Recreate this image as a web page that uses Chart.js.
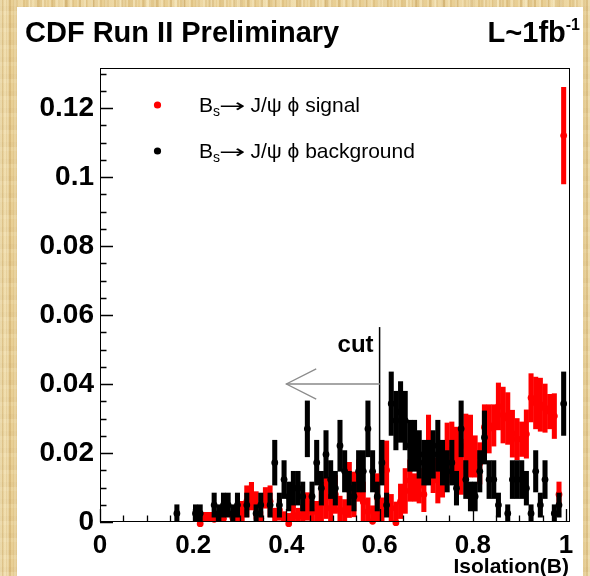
<!DOCTYPE html>
<html><head><meta charset="utf-8">
<script src="https://cdn.jsdelivr.net/npm/chart.js@4.4.1/dist/chart.umd.min.js"></script>
<style>
html,body{margin:0;padding:0;}
body{width:590px;height:576px;overflow:hidden;background:#e6cb8e;
 background-image:
  repeating-linear-gradient(90deg, rgba(255,248,220,0.30) 0 2px, rgba(190,150,82,0.14) 2px 4px, rgba(255,244,205,0.10) 4px 7px),
  repeating-linear-gradient(90deg, rgba(160,120,55,0.10) 0 3px, rgba(255,250,228,0.18) 3px 8px, rgba(0,0,0,0) 8px 13px),
  repeating-linear-gradient(90deg, rgba(255,246,214,0.22) 0 6px, rgba(176,136,70,0.12) 6px 11px, rgba(0,0,0,0) 11px 29px),
  repeating-linear-gradient(0deg, rgba(255,246,214,0.14) 0 4px, rgba(176,136,70,0.08) 4px 9px, rgba(0,0,0,0) 9px 17px);}
canvas{display:block;}
</style></head><body>
<canvas id="c" width="590" height="576"></canvas>
<script>
// Isolation(B) histogram, 100 bins of width 0.01 between 0 and 1
const binCenters = [
  0.005,0.015,0.025,0.035,0.045,0.055,0.065,0.075,0.085,0.095,
  0.105,0.115,0.125,0.135,0.145,0.155,0.165,0.175,0.185,0.195,
  0.205,0.215,0.225,0.235,0.245,0.255,0.265,0.275,0.285,0.295,
  0.305,0.315,0.325,0.335,0.345,0.355,0.365,0.375,0.385,0.395,
  0.405,0.415,0.425,0.435,0.445,0.455,0.465,0.475,0.485,0.495,
  0.505,0.515,0.525,0.535,0.545,0.555,0.565,0.575,0.585,0.595,
  0.605,0.615,0.625,0.635,0.645,0.655,0.665,0.675,0.685,0.695,
  0.705,0.715,0.725,0.735,0.745,0.755,0.765,0.775,0.785,0.795,
  0.805,0.815,0.825,0.835,0.845,0.855,0.865,0.875,0.885,0.895,
  0.905,0.915,0.925,0.935,0.945,0.955,0.965,0.975,0.985,0.995];

// Bs -> J/psi phi signal (sideband subtracted), per-bin fraction and its error
const signalValue = [
  null,null,null,null,null,null,null,null,null,null,
  null,null,null,null,null,null,null,null,null,null,
  null,-0.0005,0.0012,0.0010,0.0008,null,0.0010,null,0.0012,0.0015,
  0.0030,0.0060,0.0075,0.0048,0.0010,0.0070,0.0060,0.0020,0.0035,0.0010,
  -0.0005,0.0020,0.0015,0.0020,0.0045,0.0030,0.0030,0.0055,0.0070,0.0040,
  0.0080,0.0035,0.0030,0.0093,0.0080,0.0120,0.0058,0.0030,0.0002,0.0070,
  0.0030,0.0150,0.0040,-0.0002,0.0060,0.0090,0.0120,0.0100,0.0105,0.0080,
  0.0210,0.0135,0.0120,0.0150,0.0200,0.0210,0.0200,0.0160,0.0220,0.0220,
  0.0190,0.0170,0.0275,0.0270,0.0280,0.0335,0.0310,0.0300,0.0256,0.0240,
  0.0240,0.0255,0.0360,0.0345,0.0340,0.0330,0.0320,0.0307,0.0080,0.1120];
const signalError = [
  null,null,null,null,null,null,null,null,null,null,
  null,null,null,null,null,null,null,null,null,null,
  null,0.0030,0.0016,0.0018,0.0015,null,0.0015,null,0.0016,0.0015,
  0.0030,0.0045,0.0040,0.0040,0.0020,0.0030,0.0045,0.0020,0.0030,0.0020,
  0.0030,0.0030,0.0025,0.0030,0.0040,0.0030,0.0030,0.0060,0.0060,0.0040,
  0.0055,0.0040,0.0035,0.0080,0.0065,0.0060,0.0058,0.0040,0.0045,0.0070,
  0.0040,0.0085,0.0040,0.0060,0.0050,0.0065,0.0060,0.0040,0.0050,0.0050,
  0.0100,0.0050,0.0065,0.0078,0.0087,0.0080,0.0075,0.0080,0.0093,0.0090,
  0.0060,0.0060,0.0065,0.0070,0.0060,0.0068,0.0081,0.0075,0.0068,0.0060,
  0.0050,0.0070,0.0070,0.0075,0.0077,0.0070,0.0050,0.0065,0.0036,0.0140];

// Bs -> J/psi phi background (sidebands), per-bin fraction and its error
const backgroundValue = [
  null,null,null,null,null,null,null,null,null,null,
  null,null,null,null,null,null,0.0025,null,null,null,
  0.0025,0.0025,null,null,0.0049,0.0025,0.0049,0.0049,0.0025,0.0049,
  null,0.0049,null,0.0025,0.0049,null,0.0049,0.0172,0.0049,0.0123,
  0.0074,0.0098,0.0098,0.0074,0.0270,0.0074,0.0172,0.0098,0.0196,0.0123,
  0.0098,0.0221,0.0147,0.0098,0.0074,0.0147,0.0147,0.0270,0.0147,0.0074,
  0.0172,0.0049,0.0343,0.0294,0.0319,0.0294,0.0221,0.0221,0.0196,0.0172,
  0.0172,0.0196,0.0221,0.0172,0.0147,0.0172,0.0098,0.0270,0.0123,0.0074,
  0.0074,0.0147,0.0245,0.0123,0.0123,0.0049,null,0.0025,0.0123,0.0123,
  0.0123,0.0098,0.0025,0.0147,0.0049,0.0123,null,0.0025,0.0049,0.0343];
const backgroundError = [
  null,null,null,null,null,null,null,null,null,null,
  null,null,null,null,null,null,0.0025,null,null,null,
  0.0025,0.0025,null,null,0.0035,0.0025,0.0035,0.0035,0.0025,0.0035,
  null,0.0035,null,0.0025,0.0035,null,0.0035,0.0065,0.0035,0.0055,
  0.0042,0.0049,0.0049,0.0042,0.0081,0.0042,0.0065,0.0049,0.0069,0.0055,
  0.0049,0.0074,0.0060,0.0049,0.0042,0.0060,0.0060,0.0081,0.0060,0.0042,
  0.0065,0.0035,0.0092,0.0085,0.0088,0.0085,0.0074,0.0074,0.0069,0.0065,
  0.0065,0.0069,0.0074,0.0065,0.0060,0.0065,0.0049,0.0081,0.0055,0.0042,
  0.0042,0.0060,0.0077,0.0055,0.0055,0.0035,null,0.0025,0.0055,0.0055,
  0.0055,0.0049,0.0025,0.0060,0.0035,0.0055,null,0.0025,0.0035,0.0092];

// axis labelling
const xMajorTicks = [0, 0.2, 0.4, 0.6, 0.8, 1];
const xTickLabels = ['0', '0.2', '0.4', '0.6', '0.8', '1'];
const yMajorTicks = [0, 0.02, 0.04, 0.06, 0.08, 0.1, 0.12];
const yTickLabels = ['0', '0.02', '0.04', '0.06', '0.08', '0.1', '0.12'];

// selection cut and its arrow
const cutValue = 0.6;
const cutLineTop = 0.0565;
const arrowTip = 0.4;
const arrowLevel = 0.04;

const FONT = '"Liberation Sans", Arial, Helvetica, sans-serif';

function errorBars(values, errors) {
  const out = [];
  values.forEach((v, i) => {
    if (v === null) return;
    out.push({x: binCenters[i], y: [v - errors[i], v + errors[i]]});
  });
  return out;
}
function markers(values) {
  const out = [];
  values.forEach((v, i) => { if (v !== null) out.push({x: binCenters[i], y: v}); });
  return out;
}
function labelFor(value, majors, labels) {
  for (let k = 0; k < majors.length; k++) {
    if (Math.abs(value - majors[k]) < 1e-9) return labels[k];
  }
  return '';
}

// white page, frame, inner ticks, titles, legend and the cut marker
const decorations = {
  id: 'decorations',
  beforeDraw(chart) {
    const ctx = chart.ctx;
    ctx.save();
    ctx.fillStyle = '#ffffff';
    ctx.fillRect(17, 7, 566, 569);
    ctx.restore();
  },
  beforeDatasetsDraw(chart) {
    const ctx = chart.ctx, xs = chart.scales.x, ys = chart.scales.y;
    ctx.save();
    // cut line
    const xc = xs.getPixelForValue(cutValue);
    ctx.strokeStyle = '#000';
    ctx.lineWidth = 1.5;
    ctx.beginPath();
    ctx.moveTo(xc, ys.getPixelForValue(0));
    ctx.lineTo(xc, ys.getPixelForValue(cutLineTop));
    ctx.stroke();
    // arrow towards lower isolation
    const yA = ys.getPixelForValue(arrowLevel);
    const xT = xs.getPixelForValue(arrowTip);
    ctx.strokeStyle = '#a6a6a6';
    ctx.lineWidth = 2;
    ctx.beginPath();
    ctx.moveTo(xc, yA); ctx.lineTo(xT, yA);
    ctx.stroke();
    ctx.strokeStyle = '#8c8c8c';
    ctx.lineWidth = 1.3;
    ctx.beginPath();
    ctx.moveTo(xs.getPixelForValue(arrowTip + 0.064), ys.getPixelForValue(arrowLevel + 0.0044));
    ctx.lineTo(xT, yA);
    ctx.lineTo(xs.getPixelForValue(arrowTip + 0.064), ys.getPixelForValue(arrowLevel - 0.0044));
    ctx.stroke();
    ctx.fillStyle = '#000';
    ctx.font = 'bold 24px ' + FONT;
    ctx.textAlign = 'right';
    ctx.textBaseline = 'alphabetic';
    ctx.fillText('cut', xc - 6, ys.getPixelForValue(cutLineTop) + 25);
    ctx.restore();
  },
  afterDatasetsDraw(chart) {
    const ctx = chart.ctx, a = chart.chartArea, xs = chart.scales.x, ys = chart.scales.y;
    ctx.save();
    ctx.strokeStyle = '#000';
    ctx.lineWidth = 1;
    ctx.strokeRect(a.left + 0.5, a.top + 0.5, a.right - a.left - 1, a.bottom - a.top - 1);
    ctx.lineWidth = 1.3;
    ctx.beginPath();
    xs.ticks.forEach(t => {
      if (Math.abs(t.value / 0.05 - Math.round(t.value / 0.05)) > 1e-6) return;
      const major = labelFor(t.value, xMajorTicks, xTickLabels) !== '';
      const px = Math.round(xs.getPixelForValue(t.value)) + 0.5;
      ctx.moveTo(px, a.bottom);
      ctx.lineTo(px, a.bottom - (major ? 13 : 6.5));
    });
    ys.ticks.forEach(t => {
      if (Math.abs(t.value / 0.005 - Math.round(t.value / 0.005)) > 1e-6) return;
      const major = labelFor(t.value, yMajorTicks, yTickLabels) !== '';
      const py = Math.round(ys.getPixelForValue(t.value)) + 0.5;
      ctx.moveTo(a.left, py);
      ctx.lineTo(a.left + (major ? 13 : 6.5), py);
    });
    ctx.stroke();
    ctx.restore();
  },
  afterDraw(chart) {
    const ctx = chart.ctx;
    ctx.save();
    ctx.fillStyle = '#000';
    ctx.textBaseline = 'alphabetic';
    // headline
    ctx.font = 'bold 29px ' + FONT;
    ctx.textAlign = 'left';
    ctx.fillText('CDF Run II Preliminary', 25, 42);
    ctx.font = 'bold 16px ' + FONT;
    ctx.textAlign = 'right';
    ctx.fillText('-1', 580, 30);
    const supW = ctx.measureText('-1').width;
    ctx.font = 'bold 29px ' + FONT;
    ctx.fillText('L~1fb', 580 - supW, 42);
    // axis title
    ctx.font = 'bold 21px ' + FONT;
    ctx.fillText('Isolation(B)', 569, 573);
    // legend
    const rows = [{color: '#ff0000', y: 105, text: 'signal'}, {color: '#000000', y: 151, text: 'background'}];
    rows.forEach(r => {
      ctx.fillStyle = r.color;
      ctx.beginPath();
      ctx.arc(157.5, r.y, 3.6, 0, Math.PI * 2);
      ctx.fill();
      ctx.fillStyle = '#000';
      ctx.textAlign = 'left';
      let x = 199;
      const base = r.y + 7;
      ctx.font = '21px ' + FONT;
      ctx.fillText('B', x, base); x += ctx.measureText('B').width;
      ctx.font = '14px ' + FONT;
      ctx.fillText('s', x, base + 4); x += ctx.measureText('s').width - 1;
      ctx.font = '21px "DejaVu Sans", sans-serif';
      ctx.save();
      ctx.translate(x, base);
      ctx.scale(1.5, 0.9);
      ctx.fillText('\u2192', 0, 0);
      const aw = ctx.measureText('\u2192').width * 1.5;
      ctx.restore();
      x += aw + 5;
      ctx.font = '21px ' + FONT;
      ctx.fillText('J/\u03c8 \u03d5 ' + r.text, x, base);
    });
    ctx.restore();
  }
};

new Chart(document.getElementById('c'), {
  type: 'scatter',
  data: {
    datasets: [
      {type: 'scatter', label: 'background', data: markers(backgroundValue), order: 0,
       pointRadius: 3.4, pointBackgroundColor: '#000', pointBorderWidth: 0, borderColor: '#000',
       clip: {left: 6, right: 6, top: 6, bottom: 6}},
      {type: 'bar', label: 'background error', data: errorBars(backgroundValue, backgroundError), order: 1,
       backgroundColor: '#000', barThickness: 4.4, grouped: false, borderWidth: 0},
      {type: 'scatter', label: 'signal', data: markers(signalValue), order: 2,
       pointRadius: 3.4, pointBackgroundColor: '#ff0000', pointBorderWidth: 0, borderColor: '#ff0000',
       clip: {left: 6, right: 6, top: 6, bottom: 6}},
      {type: 'bar', label: 'signal error', data: errorBars(signalValue, signalError), order: 3,
       backgroundColor: '#ff0000', barThickness: 4.4, grouped: false, borderWidth: 0}
    ]
  },
  options: {
    responsive: false,
    animation: false,
    devicePixelRatio: 1,
    layout: {padding: {left: 0, right: 20, top: 68, bottom: 0}},
    plugins: {legend: {display: false}, tooltip: {enabled: false}, title: {display: false}},
    scales: {
      x: {
        type: 'linear', min: 0, max: 1.0086, offset: false,
        grid: {display: false, drawTicks: false}, border: {display: false},
        ticks: {stepSize: 0.05, includeBounds: false, autoSkip: false, maxRotation: 0, padding: 8, color: '#000',
                font: {family: FONT, size: 26, weight: 'bold'},
                callback: v => labelFor(v, xMajorTicks, xTickLabels)},
        afterFit: s => { s.height = 54; }
      },
      y: {
        type: 'linear', min: 0, max: 0.1316,
        grid: {display: false, drawTicks: false}, border: {display: false},
        ticks: {stepSize: 0.005, includeBounds: false, autoSkip: false, padding: 6, color: '#000',
                font: {family: FONT, size: 28, weight: 'bold'},
                callback: v => labelFor(v, yMajorTicks, yTickLabels)},
        afterFit: s => { s.width = 100; }
      }
    }
  },
  plugins: [decorations]
});
</script></body></html>
